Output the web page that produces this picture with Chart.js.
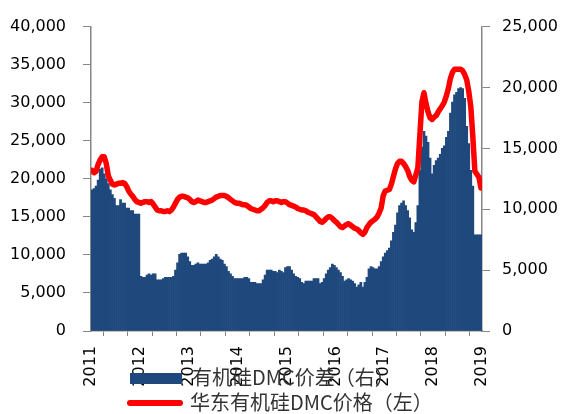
<!DOCTYPE html>
<html>
<head>
    <title>Chart</title>
    <script src="https://cdn.jsdelivr.net/npm/chart.js"></script>
    <style>
        body { margin: 0; background: #fff; }
        #wrap { position: relative; width: 563px; height: 414px; }
        .lg-text { position: absolute; font: 20px "Noto Sans CJK SC", sans-serif; color: #333; white-space: nowrap; line-height: 20px; }
        .lg-box { position: absolute; }
    </style>
</head>
<body>
    <div id="wrap">
        <canvas id="myChart" width="563" height="414"></canvas>
        <div class="lg-box" style="left:130px;top:373px;width:52px;height:11px;background:#1F497D;"></div>
        <div class="lg-text" style="left:192px;top:367px;">有机硅DMC价差（右）</div>
        <div class="lg-box" style="left:127px;top:400px;width:56px;height:6px;background:#FF0000;border-radius:3px;"></div>
        <div class="lg-text" style="left:190px;top:392px;">华东有机硅DMC价格（左）</div>
    </div>

    <script>
        // semi-monthly observations, Jan 2011 - Dec 2018
        const startYear = 2011;
        const periodsPerYear = 24;
        const yearLabels = ['2011', '2012', '2013', '2014', '2015', '2016', '2017', '2018', '2019'];

        // 有机硅DMC价差（右）
        const spread = [
            11600, 11700, 11900, 12400, 13300, 13400, 12900, 12500, 12100, 11600, 11200, 10900,
            10300, 10300, 10800, 10500, 10500, 10100, 10100, 9900, 9900, 9600, 9600, 9600,
            4500, 4400, 4400, 4600, 4700, 4600, 4700, 4700, 4200, 4200, 4200, 4300,
            4400, 4400, 4400, 4400, 4500, 5000, 5600, 6300, 6400, 6400, 6400, 6100,
            5700, 5400, 5400, 5500, 5600, 5500, 5500, 5500, 5500, 5600, 5800, 5900,
            6100, 6300, 6100, 5900, 5800, 5500, 5300, 4900, 4700, 4500, 4300, 4300,
            4300, 4300, 4300, 4400, 4400, 4300, 4000, 4000, 4000, 3900, 3900, 3900,
            4200, 4600, 5000, 5000, 5000, 4900, 4900, 4800, 5000, 4900, 4800, 5200,
            5300, 5300, 5000, 4700, 4500, 4400, 4300, 4000, 3900, 4100, 4100, 4100,
            4100, 4300, 4300, 4300, 3900, 4000, 4300, 4700, 5000, 5200, 5500, 5400,
            5200, 5000, 4800, 4500, 4100, 4200, 4300, 4200, 4100, 3900, 3600, 3800,
            4000, 3600, 4000, 4400, 5100, 5300, 5200, 5100, 5100, 5300, 5700, 6100,
            6400, 6600, 6800, 7400, 8100, 8700, 9700, 10300, 10500, 10700, 10300, 9900,
            9300, 8300, 8100, 8900, 10300, 13200, 15100, 16400, 16000, 15500, 14200, 12900,
            13600, 14000, 14200, 14500, 15000, 15200, 15900, 16400, 17900, 18800, 19400, 19600,
            19900, 20000, 19900, 19100, 16800, 15400, 13200, 11900, 7900, 7900, 7900, 7900
        ];

        // 华东有机硅DMC价格（左）
        const price = [
            21100, 20800, 21000, 21900, 22500, 22900, 22900, 22000, 20400, 19800, 19300, 19200,
            19300, 19400, 19400, 19500, 19400, 19000, 18400, 18000, 17700, 17300, 17000, 16900,
            16800, 16900, 17000, 17000, 16900, 17000, 16700, 16300, 15900, 15800, 15800, 15700,
            15700, 15800, 15700, 15900, 16300, 16800, 17300, 17600, 17700, 17700, 17600, 17500,
            17300, 17000, 16900, 17000, 17200, 17100, 17000, 16900, 16900, 17000, 17100, 17200,
            17400, 17600, 17700, 17800, 17800, 17800, 17700, 17500, 17300, 17100, 16900, 16800,
            16800, 16700, 16600, 16600, 16500, 16300, 16100, 16000, 15900, 15800, 15800, 16000,
            16200, 16500, 16900, 17100, 17100, 17000, 17100, 17100, 17000, 16900, 17000, 17000,
            16800, 16600, 16500, 16400, 16300, 16100, 16000, 15900, 15900, 15800, 15600, 15500,
            15400, 15300, 15000, 14700, 14400, 14300, 14500, 14800, 15000, 15000, 14800, 14500,
            14300, 14000, 13700, 13600, 13800, 14000, 14100, 13900, 13700, 13500, 13400, 13200,
            12900, 12700, 13000, 13600, 14000, 14300, 14500, 14700, 15000, 15500, 16200, 17800,
            18400, 18500, 18600, 19300, 20300, 21300, 22000, 22300, 22300, 22000, 21600, 21100,
            20300, 19800, 19600, 20500, 21400, 25800, 30100, 31300, 29900, 28800, 28000, 27800,
            28100, 28300, 28800, 29200, 29600, 30100, 30900, 31900, 33200, 34000, 34400, 34400,
            34400, 34400, 34200, 33700, 33000, 31500, 29500, 25500, 21000, 20600, 20200, 18800
        ];

        const periodX = spread.map((v, i) => startYear + (i + 0.5) / periodsPerYear);
        const spreadPts = spread.map((v, i) => ({ x: periodX[i], y: v }));
        const pricePts = price.map((v, i) => ({ x: periodX[i], y: v }));

        const axisColor = '#868686';
        const tickFont = { family: 'DejaVu Sans', size: 16 };
        const fmt = v => v.toLocaleString('en-US');

        const ctx = document.getElementById('myChart').getContext('2d');
        const chart = new Chart(ctx, {
            type: 'bar',
            data: {
                datasets: [{
                    type: 'line',
                    label: '华东有机硅DMC价格（左）',
                    data: pricePts,
                    yAxisID: 'yL',
                    borderColor: '#FF0000',
                    borderWidth: 5.5,
                    borderJoinStyle: 'round',
                    borderCapStyle: 'round',
                    pointRadius: 0,
                    tension: 0,
                    order: 0
                }, {
                    type: 'bar',
                    label: '有机硅DMC价差（右）',
                    data: spreadPts,
                    yAxisID: 'yR',
                    backgroundColor: '#1F497D',
                    borderWidth: 0,
                    barPercentage: 1,
                    categoryPercentage: 1,
                    order: 1
                }]
            },
            options: {
                responsive: false,
                animation: false,
                layout: { padding: { top: 20 } },
                plugins: { legend: { display: false }, tooltip: { enabled: false } },
                scales: {
                    x: {
                        type: 'linear',
                        min: startYear,
                        max: startYear + yearLabels.length - 1,
                        offset: false,
                        grid: { drawOnChartArea: false, tickLength: 5, color: axisColor },
                        border: { color: axisColor, width: 1.5 },
                        ticks: {
                            stepSize: 0.5,
                            autoSkip: false,
                            minRotation: 90,
                            maxRotation: 90,
                            padding: 10,
                            color: '#000',
                            font: tickFont,
                            callback: v => Number.isInteger(v) ? yearLabels[v - startYear] : ''
                        },
                        afterFit: s => { s.height = 83; }
                    },
                    yL: {
                        position: 'left',
                        min: 0,
                        max: 40000,
                        grid: { drawOnChartArea: false, tickLength: 8, color: axisColor },
                        border: { color: axisColor, width: 1.5 },
                        ticks: { stepSize: 5000, padding: 17, color: '#000', font: tickFont, callback: fmt },
                        afterFit: s => { s.width = 91; }
                    },
                    yR: {
                        position: 'right',
                        min: 0,
                        max: 25000,
                        grid: { drawOnChartArea: false, tickLength: 8, color: axisColor },
                        border: { color: axisColor, width: 1.5 },
                        ticks: { stepSize: 5000, padding: 12, color: '#000', font: tickFont, callback: fmt },
                        afterFit: s => { s.width = 81; }
                    }
                }
            }
        });
    </script>
</body>
</html>
